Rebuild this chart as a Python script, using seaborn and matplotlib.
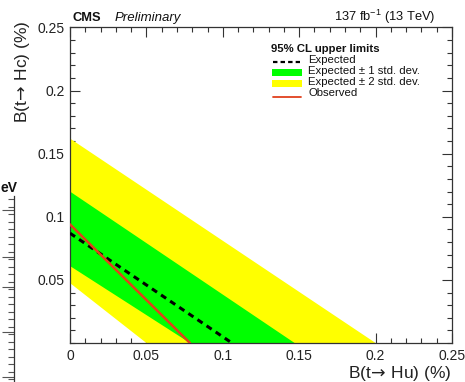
import matplotlib
matplotlib.use("Agg")
import matplotlib.pyplot as plt
import seaborn as sns
import pandas as pd
import numpy as np
from matplotlib.lines import Line2D
from matplotlib.patches import Rectangle
from matplotlib.ticker import MultipleLocator, FixedLocator

sns.set_style("white")
plt.rcParams['font.family'] = ['Liberation Sans', 'DejaVu Sans']
plt.rcParams['mathtext.fontset'] = 'custom'
plt.rcParams['mathtext.rm'] = 'Liberation Sans'
plt.rcParams['mathtext.it'] = 'Liberation Sans:italic'

# ---- data (B in %) ----
exp_x = [0.0, 0.106]
exp_y = [0.087, 0.0]
obs_x = [0.0, 0.0785]
obs_y = [0.094, 0.0]
# +-1 sigma band boundaries
s1_up_x = [0.0, 0.147]; s1_up_y = [0.120, 0.0]
s1_lo_x = [0.0, 0.0785]; s1_lo_y = [0.061, 0.0]
# +-2 sigma band boundaries
s2_up_x = [0.0, 0.200]; s2_up_y = [0.162, 0.0]
s2_lo_x = [0.0, 0.050]; s2_lo_y = [0.0475, 0.0]

x_ticks = [0, 0.05, 0.1, 0.15, 0.2, 0.25]
x_ticklabels = ["0", "0.05", "0.1", "0.15", "0.2", "0.25"]
y_ticks = [0.05, 0.1, 0.15, 0.2, 0.25]
y_ticklabels = ["0.05", "0.1", "0.15", "0.2", "0.25"]

legend_title = "95% CL upper limits"
legend_labels = ["Expected", "Expected \u00b1 1 std. dev.",
                 "Expected \u00b1 2 std. dev.", "Observed"]

W, H = 465, 382
fig = plt.figure(figsize=(W / 100, H / 100), dpi=100)
L, R, T, B = 70, 452, 27.5, 343
ax = fig.add_axes([L / W, 1 - B / H, (R - L) / W, (B - T) / H])

def band(up_x, up_y, lo_x, lo_y):
    xs = list(up_x) + list(lo_x[::-1])
    ys = list(up_y) + list(lo_y[::-1])
    return xs, ys

YEL, GRN, RED = "#ffff00", "#00ff00", "#e0401c"
DASH = (0, (2.0, 1.6))

xs, ys = band(s2_up_x, s2_up_y, s2_lo_x, s2_lo_y)
ax.fill(xs, ys, color=YEL, lw=0, zorder=1)
xs, ys = band(s1_up_x, s1_up_y, s1_lo_x, s1_lo_y)
ax.fill(xs, ys, color=GRN, lw=0, zorder=2)

df_exp = pd.DataFrame({"x": exp_x, "y": exp_y})
df_obs = pd.DataFrame({"x": obs_x, "y": obs_y})
sns.lineplot(data=df_exp, x="x", y="y", ax=ax, color="black", lw=2.2,
             linestyle=DASH, zorder=4, sort=False)
sns.lineplot(data=df_obs, x="x", y="y", ax=ax, color=RED, lw=1.8,
             zorder=5, sort=False)

ax.set_xlim(0, 0.25)
ax.set_ylim(0, 0.25)
ax.set_xlabel("")
ax.set_ylabel("")
ax.xaxis.set_major_locator(FixedLocator(x_ticks))
ax.set_xticklabels(x_ticklabels)
ax.yaxis.set_major_locator(FixedLocator(y_ticks))
ax.set_yticklabels(y_ticklabels)
ax.xaxis.set_minor_locator(MultipleLocator(0.01))
ax.yaxis.set_minor_locator(MultipleLocator(0.01))
ax.tick_params(which="both", direction="in", top=True, right=True,
               bottom=True, left=True, color="#333333", width=0.8)
ax.tick_params(which="major", length=7.5, labelsize=10, pad=4)
ax.tick_params(which="minor", length=3.8)
for s in ax.spines.values():
    s.set_color("#333333")
    s.set_linewidth(0.9)
    s.set_visible(True)
for lab in ax.get_xticklabels() + ax.get_yticklabels():
    lab.set_color("#222222")

# axis titles
ARROW = r"$\!\rightarrow\!$"
fig.text(R / W, 1 - 378 / H, "B(t" + ARROW + " Hu) (%)", ha="right",
         va="baseline", fontsize=12.5, color="#222222",
         math_fontfamily="dejavusans")
fig.text(22 / W, 1 - 20 / H, "B(t" + ARROW + " Hc) (%)", ha="center", va="top",
         rotation=90, fontsize=12.5, color="#222222",
         math_fontfamily="dejavusans")

# header texts
fig.text(72 / W, 1 - 18 / H, "CMS", ha="left", va="center", fontsize=9.3,
         fontweight="bold", color="#111111")
fig.text(115 / W, 1 - 18 / H, "Preliminary", ha="left", va="center",
         fontsize=9.5, style="italic", color="#111111")
fig.text(435 / W, 1 - 17 / H, "137 fb$^{-1}$ (13 TeV)", ha="right", va="center",
         fontsize=9.3, color="#111111")

# manual legend (figure pixel positions)
def fx(px): return px / W
def fy(py): return 1 - py / H

fig.text(fx(271), fy(49), legend_title, ha="left", va="center", fontsize=8.2,
         fontweight="bold", color="#111111")
row_y = [60, 71, 82, 93]
txt_x = 308
for lab, yy in zip(legend_labels, row_y):
    fig.text(fx(txt_x), fy(yy), lab, ha="left", va="center", fontsize=8.2,
             color="#111111")
fig.add_artist(Line2D([fx(273), fx(300)], [fy(61.5), fy(61.5)], color="black",
                      lw=1.6, linestyle=(0, (2.0, 1.4))))
fig.add_artist(Rectangle((fx(272), fy(76)), (302 - 272) / W, 7.5 / H,
                         transform=fig.transFigure, facecolor=GRN, lw=0))
fig.add_artist(Rectangle((fx(272), fy(87)), (302 - 272) / W, 7.5 / H,
                         transform=fig.transFigure, facecolor=YEL, lw=0))
fig.add_artist(Line2D([fx(273), fx(301)], [fy(97), fy(97)], color=RED,
                      lw=1.3))

# fragment of neighbouring panel on the left edge
ax2 = fig.add_axes([-0.05, 0.0, 0.05 + 14 / W, (382 - 196) / H])
ax2.set_xlim(0, 1)
ax2.set_ylim(0, 186)
for k in ["left", "top", "bottom"]:
    ax2.spines[k].set_visible(False)
ax2.spines["right"].set_color("#333333")
ax2.spines["right"].set_linewidth(0.9)
ax2.set_xticks([])
frag_major = [382 - 210, 382 - 257, 382 - 287, 382 - 332, 382 - 377]
ax2.yaxis.set_major_locator(FixedLocator(frag_major))
ax2.yaxis.set_minor_locator(FixedLocator(list(np.arange(3, 186, 7.5))))
ax2.yaxis.tick_right()
ax2.tick_params(which="both", direction="in", labelright=False, labelleft=False,
                color="#555555", width=0.8)
ax2.tick_params(which="major", length=9)
ax2.tick_params(which="minor", length=4.5)
ax2.set_facecolor("none")
fig.text(0.5 / W, 1 - 188 / H, "eV", ha="left", va="center", fontsize=10,
         fontweight="bold", color="#111111")

fig.savefig("out.png", dpi=100)
